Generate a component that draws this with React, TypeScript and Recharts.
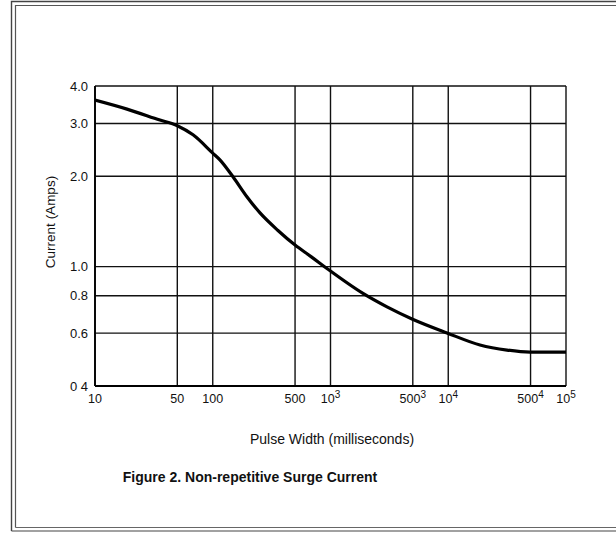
import { CartesianGrid, Line, LineChart, XAxis, YAxis } from "recharts"

// pulse width in ms (log axis) and surge current in amps (log axis)
const pulseWidth = [10, 18.7, 35.6, 50, 68, 100, 115, 149, 195, 252, 358, 500, 683, 952, 1888, 3019, 4922, 9760, 18600, 31550, 49470, 100000]
const current = [3.59, 3.35, 3.08, 2.95, 2.75, 2.39, 2.27, 1.99, 1.71, 1.51, 1.32, 1.18, 1.08, 0.98, 0.814, 0.734, 0.669, 0.601, 0.548, 0.527, 0.519, 0.519]

const xTicks = [10, 50, 100, 500, 1000, 5000, 10000, 50000, 100000]
const xTickBase = ["10", "50", "100", "500", "10", "500", "10", "500", "10"]
const xTickSup = ["", "", "", "", "3", "3", "4", "4", "5"]

const yTicks = [0.4, 0.6, 0.8, 1, 2, 3, 4]
const yTickLabels = ["0 4", "0.6", "0.8", "1.0", "2.0", "3.0", "4.0"]

const data = pulseWidth.map((x, i) => ({ x, y: current[i] }))

const font = "'Liberation Sans', Arial, Helvetica, sans-serif"

function XTick(props: any) {
  const { x, y, payload } = props
  const i = xTicks.indexOf(payload.value)
  return (
    <text x={x} y={y + 17} textAnchor="middle" fontFamily={font} fontSize={12.5} fill="#111">
      {xTickBase[i]}
      {xTickSup[i] && (
        <tspan dy={-5} fontSize={10}>
          {xTickSup[i]}
        </tspan>
      )}
    </text>
  )
}

function YTick(props: any) {
  const { x, y, payload } = props
  const i = yTicks.indexOf(payload.value)
  return (
    <text x={x - 7} y={y + 4.5} textAnchor="end" fontFamily={font} fontSize={13} fill="#111">
      {yTickLabels[i]}
    </text>
  )
}

export default function App() {
  return (
    <div style={{ position: "absolute", left: 0, top: 0, width: 616, height: 533, background: "#fff", overflow: "hidden" }}>
      <LineChart width={616} height={533} data={data} margin={{ top: 86, right: 50, bottom: 117, left: 0 }}>
        <CartesianGrid stroke="#111" strokeWidth={1.4} />
        <XAxis
          dataKey="x"
          type="number"
          scale="log"
          domain={[10, 100000]}
          ticks={xTicks}
          interval={0}
          allowDataOverflow
          height={30}
          tickSize={0}
          tickMargin={0}
          tickLine={false}
          axisLine={{ stroke: "#000", strokeWidth: 1.8 }}
          tick={<XTick />}
        />
        <YAxis
          dataKey="y"
          type="number"
          scale="log"
          domain={[0.4, 4]}
          ticks={yTicks}
          interval={0}
          allowDataOverflow
          width={95}
          tickSize={0}
          tickMargin={0}
          tickLine={false}
          axisLine={{ stroke: "#000", strokeWidth: 1.8 }}
          tick={<YTick />}
        />
        <Line type="monotone" dataKey="y" stroke="#000" strokeWidth={3.2} dot={false} isAnimationActive={false} />
      </LineChart>
      <svg width={616} height={533} style={{ position: "absolute", left: 0, top: 0, pointerEvents: "none" }}>
        <path d="M11.5 531 V1.5 H620" fill="none" stroke="#444" strokeWidth={1.4} />
        <path d="M15.5 527.5 V5.5 H620" fill="none" stroke="#555" strokeWidth={1.2} />
        <path d="M15.5 527.5 H620" fill="none" stroke="#666" strokeWidth={1.2} />
        <path d="M11.5 531 H620" fill="none" stroke="#444" strokeWidth={1.2} />
        <text x={55} y={222} transform="rotate(-90 55 222)" textAnchor="middle" fontFamily={font} fontSize={13.5} fill="#111">
          Current (Amps)
        </text>
        <text x={332} y={444} textAnchor="middle" fontFamily={font} fontSize={14} fill="#111">
          Pulse Width (milliseconds)
        </text>
        <text x={250} y={482} textAnchor="middle" fontFamily={font} fontSize={14} fontWeight="bold" fill="#111">
          Figure 2. Non-repetitive Surge Current
        </text>
      </svg>
    </div>
  )
}
